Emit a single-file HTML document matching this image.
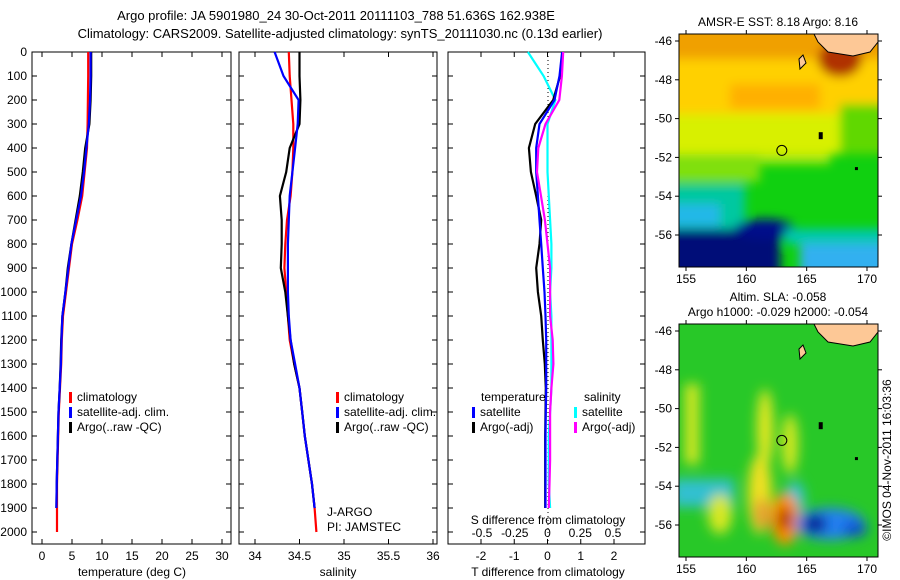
<!DOCTYPE html>
<html><head><meta charset="utf-8"><style>
body{margin:0;background:#fff}
svg{display:block;font-family:"Liberation Sans",sans-serif;font-size:12px}
</style></head><body>
<svg id="fig" width="900" height="580">
<text x="336" y="20" text-anchor="middle" font-size="13">Argo profile: JA 5901980_24 30-Oct-2011 20111103_788 51.636S 162.938E</text>
<text x="340" y="38" text-anchor="middle" font-size="13">Climatology: CARS2009. Satellite-adjusted climatology: synTS_20111030.nc (0.13d earlier)</text>
<g id="panels"></g>
<g id="maps"></g>
</svg>
<script>
// ---- data ----
const depthLevels=[0,100,200,300,400,500,600,700,800,900,1000,1100,1200,1300,1400,1500,1600,1700,1800,1900,2000];
const tempClim=[7.7,7.7,7.65,7.6,7.5,7.1,6.7,5.9,5.0,4.5,4.0,3.5,3.3,3.2,3.0,2.8,2.7,2.6,2.5,2.5,2.5];
const tempSat=[8.1,8.1,8.0,7.8,7.4,7.0,6.5,5.7,4.9,4.4,3.9,3.4,3.25,3.15,2.95,2.75,2.65,2.55,2.45,2.4,null];
const tempArgo=[8.2,8.2,8.1,7.9,7.2,6.8,6.3,5.6,4.9,4.3,3.9,3.4,3.2,3.1,2.95,2.75,2.65,2.55,2.45,2.4,null];
const salClim=[34.38,34.39,34.41,34.43,34.43,34.42,34.40,34.36,34.34,34.33,34.35,34.37,34.39,34.44,34.5,34.53,34.56,34.6,34.64,34.67,34.69];
const salSat=[34.22,34.32,34.49,34.48,34.45,34.42,34.39,34.38,34.37,34.37,34.37,34.38,34.40,34.45,34.5,34.53,34.56,34.6,34.64,34.67,null];
const salArgo=[34.5,34.5,34.51,34.5,34.39,34.35,34.28,34.3,34.3,34.29,34.34,34.37,34.40,34.44,34.5,34.53,34.56,34.6,34.64,34.67,null];
const dTSat=[0.44,0.36,0.21,-0.24,-0.34,-0.34,-0.29,-0.24,-0.19,-0.14,-0.09,-0.06,-0.04,-0.04,-0.04,-0.05,-0.06,-0.06,-0.06,-0.06,null];
const dTArgo=[0.46,0.38,0.17,-0.37,-0.56,-0.5,-0.34,-0.19,-0.24,-0.34,-0.29,-0.19,-0.14,-0.08,-0.05,-0.06,-0.07,-0.07,-0.07,-0.07,null];
const dSSat=[-0.15,-0.03,0.06,0,0,0,0.01,0.02,0.03,0.03,0.02,0.03,0.03,0.03,0.03,0.02,0.01,0.01,0.01,0.02,null];
const dSArgo=[0.12,0.11,0.09,-0.015,-0.07,-0.08,-0.05,-0.02,0,0.02,0.02,0.02,0.04,0.045,0.03,0.02,0.02,0.02,0.015,0.01,null];
const yTicks=[0,100,200,300,400,500,600,700,800,900,1000,1100,1200,1300,1400,1500,1600,1700,1800,1900,2000];
const tTicks=[0,5,10,15,20,25,30];
const sTicks=[34,34.5,35,35.5,36];
const sTickLabels=["34","34.5","35","35.5","36"];
const dTTicks=[-2,-1,0,1,2];
const dSTicks=[-0.5,-0.25,0,0.25,0.5];
const dSTickLabels=["-0.5","-0.25","0","0.25","0.5"];

const NS="http://www.w3.org/2000/svg";
function el(tag,attrs,parent,txt){const e=document.createElementNS(NS,tag);for(const k in attrs)e.setAttribute(k,attrs[k]);if(txt!==undefined)e.textContent=txt;parent.appendChild(e);return e;}
const P=document.getElementById('panels');
const yTop=52,yBot=544;
function yScale(d){return 52+d*0.24;}
function linear(d0,d1,r0,r1){return v=>r0+(v-d0)*(r1-r0)/(d1-d0);}
const panels=[
 {x0:32,x1:231,sx:linear(0,30,42,222),name:'temperature-panel'},
 {x0:239,x1:437,sx:linear(34,36,255,433),name:'salinity-panel'},
 {x0:448,x1:645,sx:linear(-2,2,481,614),name:'difference-panel'}
];
const dS=linear(-0.5,0.5,482,613);
panels.forEach((p,i)=>{
 const g=el('g',{},P);
 
 
 const r=el('rect',{x:p.x0,y:yTop,width:p.x1-p.x0,height:yBot-yTop,fill:'none',stroke:'#000','stroke-width':1},g);
 
 
 yTicks.forEach(t=>{const y=yScale(t);
  el('line',{x1:p.x0,x2:p.x0+5,y1:y,y2:y,stroke:'#000'},g);
  el('line',{x1:p.x1,x2:p.x1-5,y1:y,y2:y,stroke:'#000'},g);
  if(i===0){const tx=el('text',{x:27,y:y+4,'text-anchor':'end'},g,String(t));
   
   }
 });
});
function xTicks(p,ticks,labels,sc,ylab){
 ticks.forEach((t,k)=>{const x=sc(t);
  el('line',{x1:x,x2:x,y1:yBot,y2:yBot-5,stroke:'#000'},P);
  el('line',{x1:x,x2:x,y1:yTop,y2:yTop+5,stroke:'#000'},P);
  const tx=el('text',{x:x,y:ylab,'text-anchor':'middle'},P,labels[k]);
  
  
 });
}
xTicks(panels[0],tTicks,tTicks.map(String),panels[0].sx,560);
xTicks(panels[1],sTicks,sTickLabels,panels[1].sx,560);
xTicks(panels[2],dTTicks,dTTicks.map(String),panels[2].sx,560);
dSTicks.forEach((t,k)=>{const tx=el('text',{x:dS(t),y:537,'text-anchor':'middle'},P,dSTickLabels[k]);
 
 });
function lbl(x,y,s,name,anchor){const t=el('text',{x:x,y:y,'text-anchor':anchor||'start'},P,s);
 
 }
lbl(132,576,'temperature (deg C)','x-axis-title-temperature','middle');
lbl(338,576,'salinity','x-axis-title-salinity','middle');
lbl(548,576,'T difference from climatology','x-axis-title-t-diff','middle');
lbl(548,524,'S difference from climatology','s-diff-axis-title','middle');
lbl(327,516,'J-ARGO','agency-label');
lbl(327,531,'PI: JAMSTEC','pi-label');
const zl=el('line',{x1:548,x2:548,y1:yTop,y2:yBot,stroke:'#000','stroke-dasharray':'1,3'},P);


function series(vals,sc,color,name){
 let d='';let first=true;
 vals.forEach((v,k)=>{if(v===null)return;const x=sc(v),y=yScale(depthLevels[k]);d+=(first?'M':'L')+x.toFixed(1)+','+y.toFixed(1);first=false;});
 const p=el('path',{d:d,fill:'none',stroke:color,'stroke-width':2.2},P);
 
 
}
series(tempClim,panels[0].sx,'#f00','temp-climatology-line');
series(tempArgo,panels[0].sx,'#000','temp-argo-line');
series(tempSat,panels[0].sx,'#00f','temp-satellite-line');
series(salClim,panels[1].sx,'#f00','sal-climatology-line');
series(salArgo,panels[1].sx,'#000','sal-argo-line');
series(salSat,panels[1].sx,'#00f','sal-satellite-line');
series(dSSat,dS,'#0ff','s-diff-satellite-line');
series(dTArgo,panels[2].sx,'#000','t-diff-argo-line');
series(dTSat,panels[2].sx,'#00f','t-diff-satellite-line');
series(dSArgo,dS,'#f0f','s-diff-argo-line');
function legend(x,y,color,text,name){
 const g=el('g',{},P);
 
 
 el('rect',{x:x,y:y-9,width:3,height:11,fill:color},g);
 el('text',{x:x+8,y:y},g,text);
}
[[69,'#f00','climatology'],[69,'#00f','satellite-adj. clim.'],[69,'#000','Argo(..raw -QC)']].forEach((e,k)=>{
 legend(e[0],401+k*15,e[1],e[2],'legend-entry');legend(e[0]+267,401+k*15,e[1],e[2],'legend-entry');});
lbl(481,401,'temperature','legend-title-temperature');
lbl(584,401,'salinity','legend-title-salinity');
legend(472,416,'#00f','satellite','legend-entry');
legend(472,431,'#000','Argo(-adj)','legend-entry');
legend(574,416,'#0ff','satellite','legend-entry');
legend(574,431,'#f0f','Argo(-adj)','legend-entry');

// ---- maps ----
const M=document.getElementById('maps');
const latTicks=[-46,-48,-50,-52,-54,-56];
const lonTicks=[155,160,165,170];
function buildMap(y0,y1,lines,isSst,name){
 const g=el('g',{},M);
 
 
 const x0=679,x1=878;
 const lon=linear(155,170,686,867), lat=linear(-46,-56,y0+7,y0+201);
 const cid='clip'+y0;
 const cp=el('clipPath',{id:cid},g);el('rect',{x:x0,y:y0,width:x1-x0,height:y1-y0},cp);
 const fid='blur'+y0;
 const f=el('filter',{id:fid,filterUnits:'userSpaceOnUse',x:x0-60,y:y0-60,width:x1-x0+120,height:y1-y0+120},g);el('feGaussianBlur',{stdDeviation:isSst?5:6},f);
 const c=el('g',{'clip-path':'url(#'+cid+')'},g);
 el('rect',{x:x0,y:y0,width:x1-x0,height:y1-y0,fill:isSst?'#10d010':'#28c828'},c);
 const b=el('g',{filter:'url(#'+fid+')'},c);
 if(isSst){
  el('rect',{x:650,y:y0+70,width:180,height:60,fill:'#a8e810'},b);
  el('rect',{x:650,y:y0+40,width:260,height:80,fill:'#d8f000'},b);
  el('rect',{x:650,y:y0+10,width:260,height:70,fill:'#ffd000'},b);
  el('rect',{x:650,y:y0-20,width:260,height:45,fill:'#f0a000'},b);
  el('rect',{x:730,y:y0+50,width:90,height:25,fill:'#ffb000'},b);
  el('ellipse',{cx:840,cy:y0+25,rx:22,ry:18,fill:'#b03000'},b);
  el('rect',{x:840,y:y0+70,width:60,height:50,fill:'#60d800'},b);
  el('rect',{x:650,y:y0+120,width:110,height:28,fill:'#80e010'},b);
  el('rect',{x:650,y:y0+150,width:95,height:45,fill:'#00c8a0'},b);
  el('rect',{x:650,y:y0+170,width:70,height:22,fill:'#20b8e8'},b);
  el('rect',{x:650,y:y0+195,width:130,height:60,fill:'#000878'},b);
  el('ellipse',{cx:765,cy:y0+195,rx:30,ry:10,fill:'#00108a'},b);
  el('rect',{x:800,y:y0+208,width:100,height:40,fill:'#30b0f0'},b);
  el('rect',{x:785,y:y0+195,width:110,height:15,fill:'#00c8b0'},b);
 } else {
  el('rect',{x:685,y:y0+60,width:14,height:80,fill:'#d8e820'},b);
  el('rect',{x:672,y:y0+155,width:62,height:28,fill:'#30c0d0'},b);
  el('ellipse',{cx:760,cy:y0+170,rx:12,ry:40,fill:'#f0e020'},b);
  el('ellipse',{cx:765,cy:y0+105,rx:8,ry:40,fill:'#e8e820'},b);
  el('ellipse',{cx:790,cy:y0+120,rx:8,ry:30,fill:'#d8e820'},b);
  el('ellipse',{cx:762,cy:y0+190,rx:8,ry:16,fill:'#e8a030'},b);
  el('ellipse',{cx:795,cy:y0+175,rx:10,ry:18,fill:'#30c0d0'},b);
  el('ellipse',{cx:785,cy:y0+195,rx:14,ry:26,fill:'#ff9000'},b);
  el('ellipse',{cx:785,cy:y0+195,rx:6,ry:12,fill:'#a01000'},b);
  el('ellipse',{cx:830,cy:y0+200,rx:35,ry:16,fill:'#2080f0'},b);
  el('ellipse',{cx:815,cy:y0+200,rx:12,ry:9,fill:'#000890'},b);
  el('ellipse',{cx:855,cy:y0+205,rx:12,ry:8,fill:'#1050d0'},b);
  el('ellipse',{cx:720,cy:y0+190,rx:12,ry:20,fill:'#d8e820'},b);
 }
 const land=el('path',{d:`M${x0+135},${y0} L${x1},${y0} L${x1},${y0+8} L${x1-8},${y0+18} L${x1-25},${y0+22} L${x1-50},${y0+18} L${x1-60},${y0+8} Z`,fill:'#fdc896',stroke:'#000','stroke-width':1},c);
 
 
 el('path',{d:`M${x0+120},${y0+25} l4,-4 l3,8 l-6,6 z`,fill:'#fdc896',stroke:'#000'},c);
 el('rect',{x:lon(166),y:lat(-50.7),width:4,height:7,fill:'#000'},c);
 el('rect',{x:lon(169),y:lat(-52.5),width:3,height:3,fill:'#000'},c);
 const circ=el('circle',{cx:lon(162.94),cy:lat(-51.64),r:5,fill:'none',stroke:'#000'},c);
 
 
 el('rect',{x:x0,y:y0,width:x1-x0,height:y1-y0,fill:'none',stroke:'#000'},g);
 latTicks.forEach(t=>{const y=lat(t);
  el('line',{x1:x0,x2:x0-4,y1:y,y2:y,stroke:'#000'},g);el('line',{x1:x1,x2:x1+4,y1:y,y2:y,stroke:'#000'},g);
  const tx=el('text',{x:672,y:y+4,'text-anchor':'end'},g,String(t));
  
  });
 lonTicks.forEach(t=>{const x=lon(t);
  el('line',{x1:x,x2:x,y1:y1,y2:y1+4,stroke:'#000'},g);el('line',{x1:x,x2:x,y1:y0,y2:y0-4,stroke:'#000'},g);
  const tx=el('text',{x:x,y:y1+16,'text-anchor':'middle'},g,String(t));
  
  });
 lines.forEach((s,k)=>{const tx=el('text',{x:778,y:y0-8-(lines.length-1-k)*15,'text-anchor':'middle'},g,s);
  
  });
}
buildMap(34,267,['AMSR-E SST: 8.18 Argo: 8.16'],true,'sst-map');
buildMap(324,557,['Altim. SLA: -0.058','Argo h1000: -0.029 h2000: -0.054'],false,'sla-map');
const cr=el('text',{x:0,y:0,'text-anchor':'middle',transform:'translate(891,460) rotate(-90)'},M,'©IMOS 04-Nov-2011 16:03:36');


</script>
</body></html>
